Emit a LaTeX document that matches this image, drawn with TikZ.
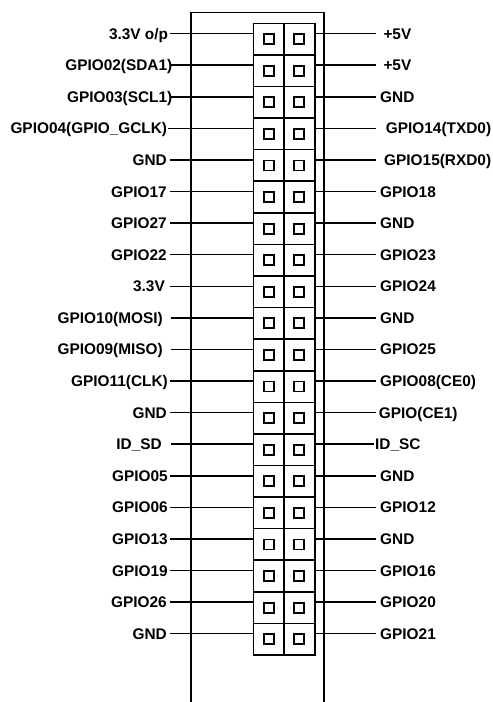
\documentclass[tikz,border=0pt]{standalone}
\usepackage{fontspec}
\setmainfont{Liberation Sans}
\begin{document}
\begin{tikzpicture}[x=1pt,y=-1pt,
  wire/.style={line width=1.5pt},
  frame/.style={line width=1.6pt},
  pinsq/.style={draw,line width=1.8pt,minimum size=10pt,inner sep=0pt},
  lbl/.style={inner sep=0pt,font=\fontsize{15.4}{18}\selectfont\bfseries}]
\useasboundingbox (0,0) rectangle (493,702);
% outer board outline (open at the bottom)
\draw[frame] (191,704) -- (191,12.3) -- (324,12.3) -- (324,704);
% header grid
\draw[frame] (253.3,23.3) rectangle (314.7,655);
\draw[frame] (284,23.3) -- (284,655);
\foreach \k in {1,...,19}{
  \draw[frame] (253.3,{23.3+31.585*\k}) -- (314.7,{23.3+31.585*\k});
}
\foreach \i/\L/\lx/\ls/\R/\rx/\re in {
  1/{3.3V o/p}/168.3/170/{+5V}/383.3/376,
  2/{GPIO02(SDA1)}/172.5/170/{+5V}/383.3/376,
  3/{GPIO03(SCL1)}/172.5/170/{GND}/380/376,
  4/{GPIO04(GPIO\_GCLK)}/167.3/168/{GPIO14(TXD0)}/385.7/376,
  5/{GND}/167/170/{GPIO15(RXD0)}/384/376,
  6/{GPIO17}/167/170/{GPIO18}/380/376,
  7/{GPIO27}/167/170/{GND}/380/376,
  8/{GPIO22}/167/170/{GPIO23}/380/376,
  9/{3.3V}/165/170/{GPIO24}/380/376,
  10/{GPIO10(MOSI)}/163/170.7/{GND}/380/376,
  11/{GPIO09(MISO)}/163/170.7/{GPIO25}/380/376,
  12/{GPIO11(CLK)}/168/170/{GPIO08(CE0)}/380/376,
  13/{GND}/167/170/{GPIO(CE1)}/378.7/376,
  14/{ID\_SD}/162/170.7/{ID\_SC}/375/374,
  15/{GPIO05}/168/170/{GND}/380/376,
  16/{GPIO06}/168/170/{GPIO12}/380/376,
  17/{GPIO13}/168/170/{GND}/380/376,
  18/{GPIO19}/168/170/{GPIO16}/380/376,
  19/{GPIO26}/167/170/{GPIO20}/380/376,
  20/{GND}/167/170/{GPIO21}/380/376}{
  \pgfmathsetmacro\yc{23.3+31.585*(\i-0.5)}
  \pgfmathsetmacro\yl{\yc-5.5}
  \node[pinsq] (pl\i) at (268.7,\yc) {};
  \node[pinsq] (pr\i) at (299.3,\yc) {};
  \node[lbl,anchor=base east] (l\i) at (\lx,\yl+5.5) {\L};
  \node[lbl,anchor=base west] (r\i) at (\rx,\yl+5.5) {\R};
  \coordinate (ls\i) at (\ls,\yl);
  \coordinate (le\i) at (253.3,\yl);
  \coordinate (rs\i) at (314.7,\yl);
  \coordinate (re\i) at (\re,\yl);
  \draw[wire] (ls\i) -- (le\i);
  \draw[wire] (rs\i) -- (re\i);
}
\end{tikzpicture}
\end{document}
